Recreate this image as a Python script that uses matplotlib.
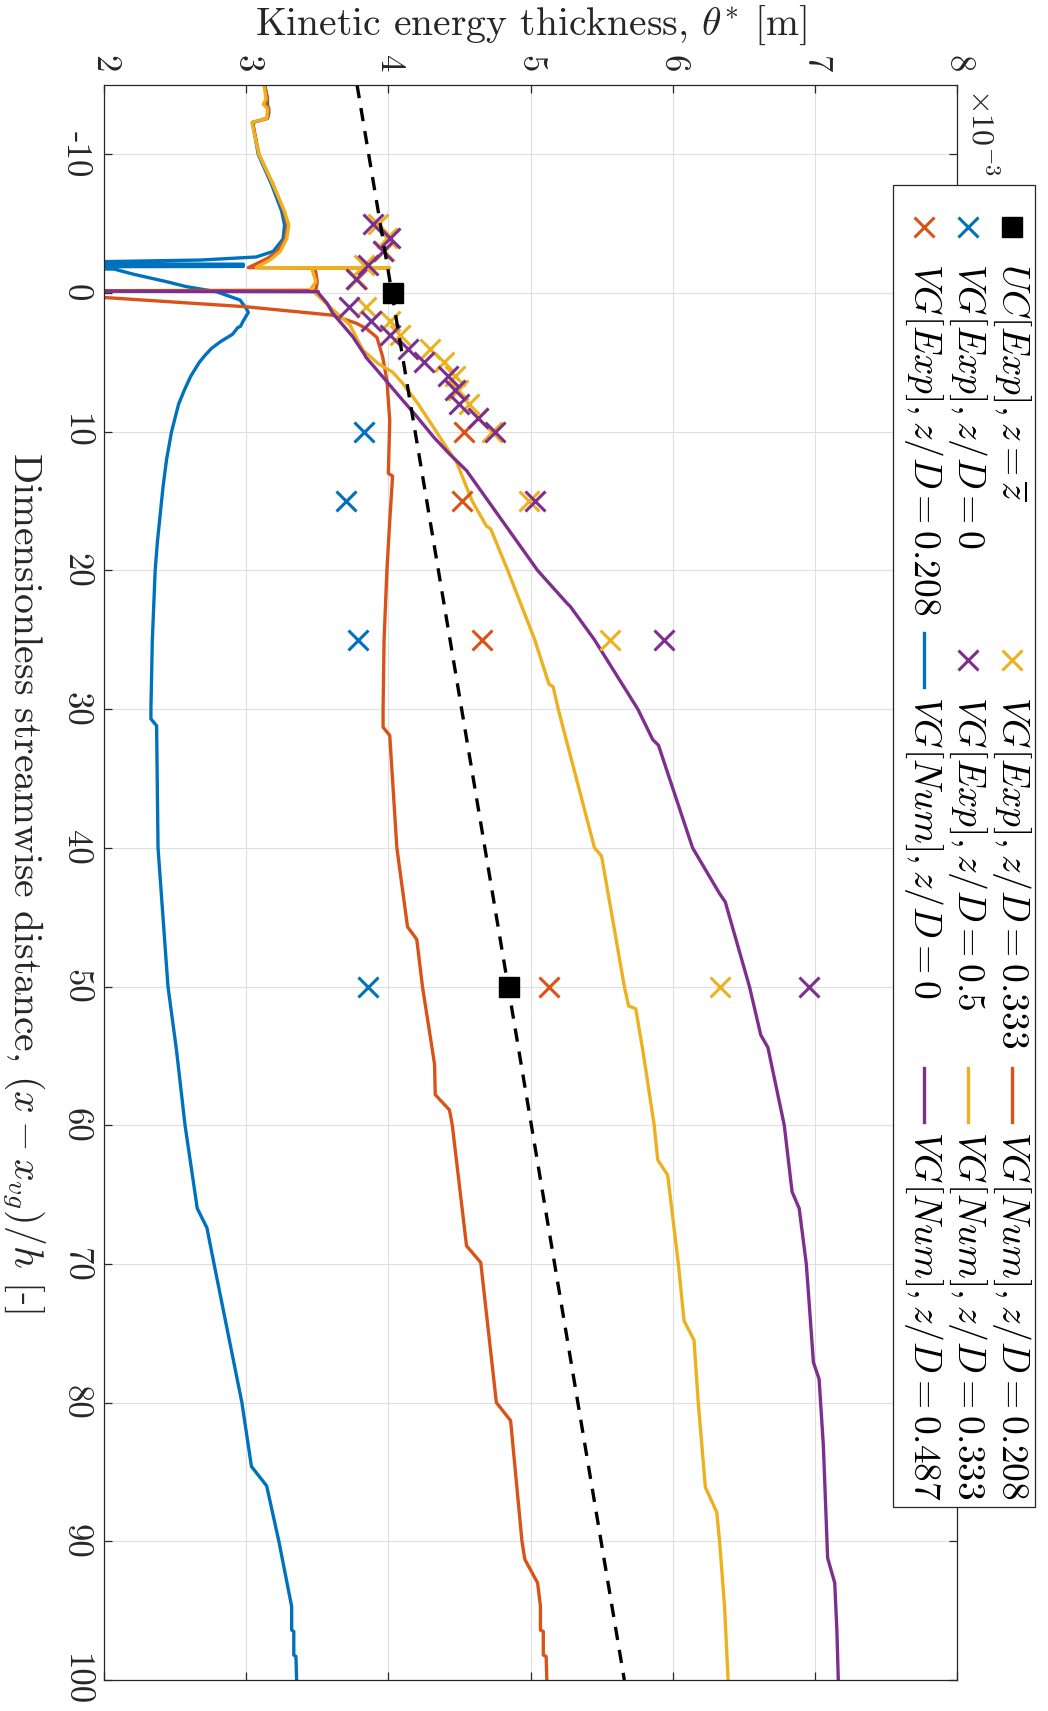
import matplotlib
matplotlib.use("Agg")
import matplotlib.pyplot as plt
from matplotlib.lines import Line2D
from matplotlib.patches import Rectangle

plt.rcParams["font.family"] = "serif"
plt.rcParams["font.serif"] = ["cmr10", "DejaVu Serif"]
plt.rcParams["mathtext.fontset"] = "cm"
plt.rcParams["axes.unicode_minus"] = False

# ---- data: streamwise distance (x - x_vg)/h and theta* in units of 1e-3 m ----
uc_dist = [0, 50]
uc_theta = [4.03, 4.85]
uc_trend_dist = [-15, 100]
uc_trend_theta = [3.78, 5.66]

exp_dist_far = [10, 15, 25, 50]
vg_exp_0 = [3.83, 3.70, 3.79, 3.86]
vg_exp_0208 = [4.535, 4.52, 4.66, 5.13]

exp_dist_near = [-5, -4, -3, -2, -1, 1, 2, 3, 4, 5, 6, 7, 8, 9, 10, 15, 25, 50]
vg_exp_0333 = [3.93, 3.99, 3.97, 3.83, 3.78, 3.84, 4.01, 4.08, 4.29, 4.39, 4.47,
               4.49, 4.57, 4.63, 4.73, 4.99, 5.56, 6.33]
vg_exp_05 = [3.89, 4.01, 3.96, 3.86, 3.77, 3.72, 3.88, 4.01, 4.14, 4.25, 4.42,
             4.47, 4.50, 4.63, 4.75, 5.03, 5.94, 6.96]

num0_dist = [-15, -14.0, -13.6, -13.0, -12.6, -12.3, -10, -7.8, -5.9, -4.9, -3.9, -3.0,
             -2.6, -2.38, -2.26, -2.2, -2.12, -2.08, -1.92, -1.88, -1.80, -1.73, -1.35,
             -0.82, -0.46, -0.1, 0.5, 1.1, 1.4, 2.0, 2.4, 2.5, 2.9, 3.0, 3.5, 4.0, 4.5,
             5.0, 6.0, 7.0, 8.0, 9.0, 10, 12, 14, 16, 18, 20, 22.5, 25, 27.5, 30, 30.7,
             31.2, 40, 50, 54.6, 60, 66, 67.4, 70, 80, 84.6, 86, 90, 94.7, 96.4, 96.5,
             98.2, 98.3, 100]
num0_theta = [3.13, 3.15, 3.15, 3.16, 3.15, 3.045, 3.085, 3.18, 3.25, 3.27, 3.26, 3.19,
              3.07, 2.68, 1.97, 1.0, 1.0, 2.98, 2.98, 1.0, 1.0, 2.07, 2.21,
              2.44, 2.58, 2.79, 2.956, 3.0, 3.015, 2.98, 2.96, 2.94, 2.91, 2.90, 2.82, 2.755, 2.71,
              2.67, 2.61, 2.565, 2.525, 2.50, 2.475, 2.44, 2.415, 2.395, 2.375, 2.36, 2.35, 2.34, 2.335, 2.33, 2.33,
              2.37, 2.38, 2.45, 2.51, 2.57, 2.656, 2.724, 2.774, 2.97, 3.037, 3.144, 3.23, 3.32, 3.32, 3.335,
              3.335, 3.35, 3.355]

num0208_dist = [-15, -14.0, -13.6, -13.3, -12.6, -12.3, -10, -7.8, -5.9, -4.9, -3.9, -3.0,
                -2.5, -2.0, -1.83, -1.80, -1.5, -0.8, -0.2, -0.15, 0.05, 0.3, 0.99, 1.6,
                2.2, 2.6, 3.2, 4.6, 6.3, 9.2, 13.0, 13.2, 16.4, 20, 25, 30, 31.3, 31.9, 40,
                45.7, 46.6, 50, 54.6, 55.6, 57.8, 58.9, 60, 68.7, 69.9, 80, 81.3, 90, 91.3,
                93, 94.7, 96.4, 96.5, 98.2, 98.3, 100]
num0208_theta = [3.13, 3.15, 3.14, 3.16, 3.15, 3.045, 3.09, 3.19, 3.265, 3.29, 3.275, 3.22,
                 3.15, 3.05, 3.015, 3.48, 3.49, 3.50, 3.49, 1.0, 1.0, 1.97, 3.0, 3.61,
                 3.78, 3.85, 3.92, 3.96, 3.99, 4.01, 4.0, 4.03, 4.01, 3.99, 3.97, 3.963, 3.963, 4.01, 4.06,
                 4.135, 4.20, 4.24, 4.31, 4.325, 4.33, 4.43, 4.45, 4.55, 4.65, 4.76, 4.86, 4.94, 4.96,
                 5.05, 5.07, 5.07, 5.09, 5.09, 5.11, 5.115]

num0333_dist = [-15, -14.0, -13.6, -13.3, -12.6, -12.3, -10, -7.8, -5.9, -4.9, -3.9, -3.0,
                -2.4, -2.0, -1.83, -1.82, -1.78, -1.5, -0.8, -0.3, 0.15, 1.2, 2.3, 4.1,
                5.1, 5.7, 6.5, 8.0, 9.4, 11.3, 12.2, 15, 16.8, 17.0, 20, 25, 28.2, 28.4,
                30, 40, 40.6, 50, 51.4, 51.6, 54.6, 60, 62.5, 63.6, 70, 74.1, 75.5, 80,
                86.1, 87.9, 90, 94.7, 100]
num0333_theta = [3.125, 3.14, 3.12, 3.15, 3.145, 3.04, 3.09, 3.19, 3.27, 3.30, 3.285, 3.24,
                 3.17, 3.10, 3.07, 4.01, 3.46, 3.47, 3.49, 3.455, 3.50, 3.61, 3.73, 3.82,
                 3.93, 4.03, 4.10, 4.21, 4.30, 4.42, 4.48, 4.59, 4.69, 4.72, 4.84, 5.03, 5.13, 5.16,
                 5.195, 5.45, 5.50, 5.66, 5.69, 5.74, 5.79, 5.87, 5.895, 5.965, 6.04, 6.08, 6.15, 6.18,
                 6.23, 6.31, 6.33, 6.365, 6.39]

num0487_dist = [-0.15, -0.1, 0.02, 0.75, 1.47, 3.15, 4.47, 4.6, 6.03, 7.48, 8.9, 10.4,
                11.6, 12.8, 16.4, 20, 22.4, 22.6, 25, 30, 32.2, 32.6, 40, 43.3, 43.9, 50, 53.5,
                54.4, 60, 64.8, 66, 70, 72.8, 77.1, 78.3, 83.1, 91.2, 93, 96.4, 100]
num0487_theta = [1.0, 3.507, 3.51, 3.57, 3.61, 3.75, 3.835, 3.84, 3.96, 4.08, 4.20, 4.32,
                 4.43, 4.55, 4.80, 5.05, 5.26, 5.28, 5.45, 5.755, 5.86, 5.90, 6.14, 6.33, 6.37, 6.54, 6.62,
                 6.67, 6.785, 6.84, 6.89, 6.94, 6.96, 6.99, 7.03, 7.06, 7.09, 7.14, 7.155, 7.165]

theta_ticks = [2, 3, 4, 5, 6, 7, 8]
dist_ticks = [-10, 0, 10, 20, 30, 40, 50, 60, 70, 80, 90, 100]

labels = [r"$UC[Exp], z = \overline{z}$",
          r"$VG[Exp], z/D = 0$",
          r"$VG[Exp], z/D = 0.208$",
          r"$VG[Exp], z/D = 0.333$",
          r"$VG[Exp], z/D = 0.5$",
          r"$VG[Num], z/D = 0$",
          r"$VG[Num], z/D = 0.208$",
          r"$VG[Num], z/D = 0.333$",
          r"$VG[Num], z/D = 0.487$"]

blue, red, yellow, purple = "#0072BD", "#D95319", "#EDB120", "#7E2F8E"
dark = "#262626"

W, H = 1048, 1711
fig = plt.figure(figsize=(W / 100, H / 100), dpi=100)
ax = fig.add_axes([104 / W, 1 - 1680 / H, 853 / W, 1595 / H])

lw = 2.4
ax.plot(num0_theta, num0_dist, color=blue, lw=lw)
ax.plot(num0208_theta, num0208_dist, color=red, lw=lw)
ax.plot(num0333_theta, num0333_dist, color=yellow, lw=lw)
ax.plot(num0487_theta, num0487_dist, color=purple, lw=lw)

mk = dict(marker="x", ls="none", ms=14, mew=2.2)
ax.plot(vg_exp_0, exp_dist_far, color=blue, **mk)
ax.plot(vg_exp_0208, exp_dist_far, color=red, **mk)
ax.plot(vg_exp_0333, exp_dist_near, color=yellow, **mk)
ax.plot(vg_exp_05, exp_dist_near, color=purple, **mk)

ax.plot(uc_trend_theta, uc_trend_dist, color="k", lw=lw, dashes=(4.0, 3.0))
ax.plot(uc_theta, uc_dist, color="k", marker="s", ls="none", ms=15)

ax.set_xlim(2, 8)
ax.set_ylim(100, -15)
ax.set_xticks(theta_ticks, [str(t) for t in theta_ticks])
ax.set_yticks(dist_ticks, [str(t) for t in dist_ticks])
ax.grid(True, color="#dfdfdf", lw=0.8)
ax.set_axisbelow(True)
for s in ax.spines.values():
    s.set_color(dark)
    s.set_linewidth(0.9)
ax.tick_params(direction="in", length=6, width=0.9, color=dark, labelcolor=dark,
               top=True, bottom=True, left=True, right=True,
               labeltop=True, labelbottom=False, labelsize=25)
ax.tick_params(axis="x", labelrotation=-90, pad=9)
ax.tick_params(axis="y", labelrotation=-90, pad=9)
for t in ax.get_yticklabels():
    t.set_va("center")

ax.xaxis.set_label_position("top")
ax.set_xlabel(r"Kinetic energy thickness, $\theta^{*}$ [m]", fontsize=28.5, color=dark)
ax.xaxis.label.set_va("bottom")
ax.xaxis.set_label_coords(0.5, 1 + (85 - 47) / 1595)
ax.set_ylabel(r"Dimensionless streamwise distance, $(x - x_{vg})/h$ [-]", fontsize=28.5,
              color=dark, rotation=-90, va="top", ha="center")
ax.yaxis.set_label_coords((46 - 104) / 853, 0.5)

fig.text(982 / W, 1 - 88 / H, r"$\times10^{-3}$", rotation=-90, ha="center", va="top",
         fontsize=23, color=dark)

# legend, drawn rotated like the rest of the chart
fig.add_artist(Rectangle((893 / W, 1 - 1507 / H), (1035 - 893) / W, (1507 - 185) / H,
                         transform=fig.transFigure, facecolor="white", edgecolor=dark,
                         lw=0.9, zorder=5))
row_x = [1012, 968, 924]
col_y = [227, 660, 1095]
styles = [("k", "s"), (blue, "x"), (red, "x"), (yellow, "x"), (purple, "x"),
          (blue, "-"), (red, "-"), (yellow, "-"), (purple, "-")]
for i, (lab, (c, m)) in enumerate(zip(labels, styles)):
    px, py = row_x[i % 3], col_y[i // 3]
    if m == "-":
        art = Line2D([px / W, px / W], [1 - (py - 27) / H, 1 - (py + 27) / H], color=c, lw=lw,
                     transform=fig.transFigure, zorder=6)
    elif m == "s":
        art = Line2D([px / W], [1 - py / H], color=c, marker="s", ms=15, ls="none",
                     transform=fig.transFigure, zorder=6)
    else:
        art = Line2D([px / W], [1 - py / H], color=c, marker="x", ms=14, mew=2.2, ls="none",
                     transform=fig.transFigure, zorder=6)
    fig.add_artist(art)
    fig.text(px / W, 1 - (py + 36) / H, lab, rotation=-90, rotation_mode="anchor",
             ha="left", va="center", fontsize=27, color="k", zorder=7)

fig.savefig("out.png", dpi=100)
